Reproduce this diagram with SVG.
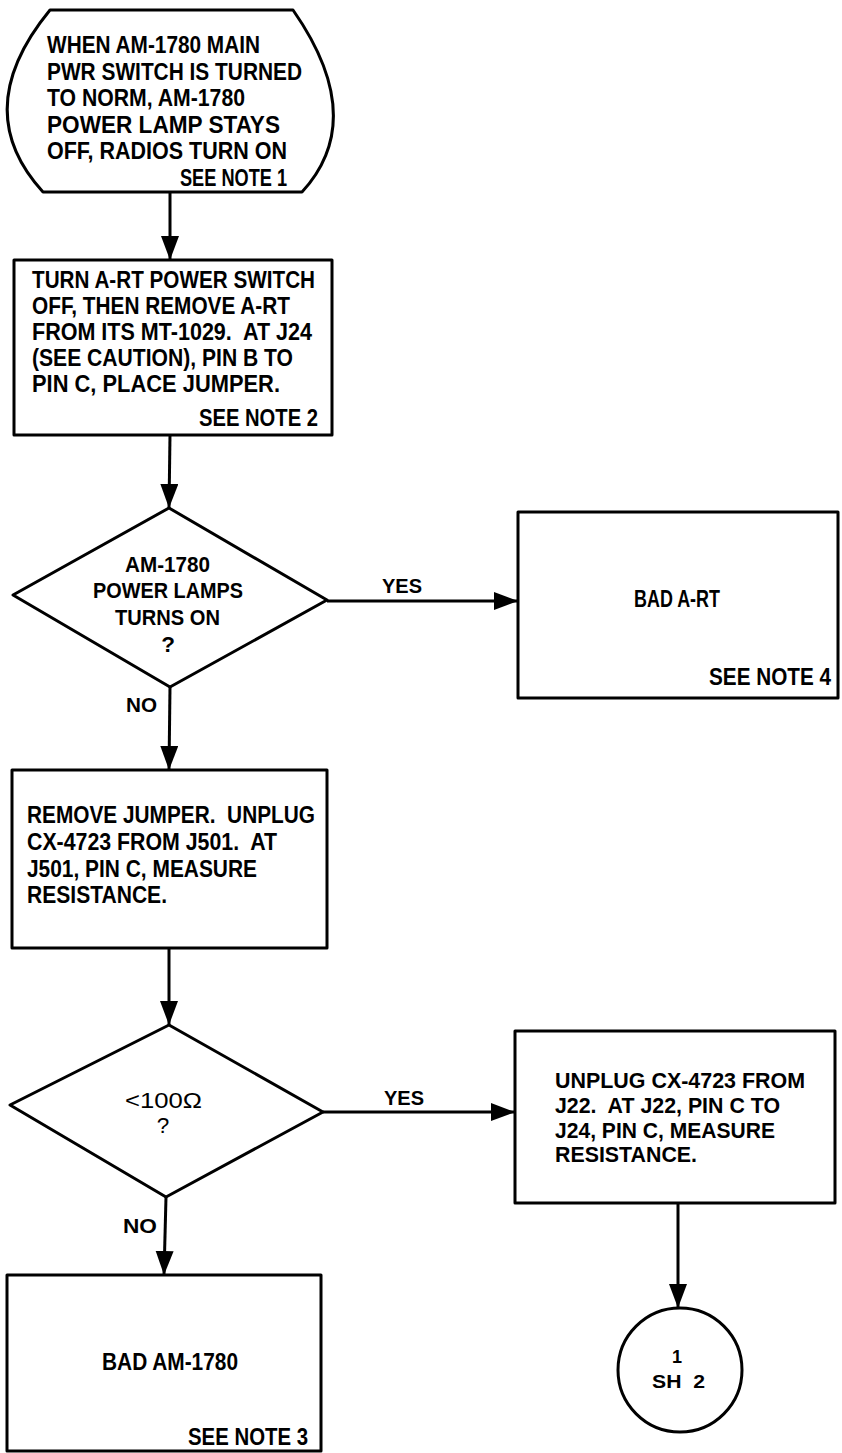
<svg xmlns="http://www.w3.org/2000/svg" width="842" height="1453" viewBox="0 0 842 1453">
<style>
.shape{fill:#fff;stroke:#000;stroke-width:3;stroke-linejoin:round}
.line{fill:none;stroke:#000;stroke-width:3}
text{font-family:"Liberation Sans Narrow","Liberation Sans",Arial,sans-serif;font-weight:bold;fill:#000;white-space:pre}
.t24{font-size:24px}
.t23{font-size:23px}
.t22{font-size:22.5px}
.t21{font-size:21px}
.t18{font-size:18px}
.reg{font-weight:normal}
.mid{text-anchor:middle}
</style>
<defs>
<marker id="arrow" markerUnits="userSpaceOnUse" markerWidth="26" markerHeight="20" refX="24" refY="9" orient="auto">
<path d="M0,0 L24,9 L0,18 Z" fill="#000"/>
</marker>
</defs>
<rect width="842" height="1453" fill="#fff"/>

<g id="connectors">
<line class="line" x1="170" y1="192" x2="170" y2="260" marker-end="url(#arrow)"/>
<line class="line" x1="170" y1="435" x2="169" y2="508" marker-end="url(#arrow)"/>
<line class="line" x1="327" y1="601" x2="518" y2="601" marker-end="url(#arrow)"/>
<line class="line" x1="170" y1="687" x2="169" y2="770" marker-end="url(#arrow)"/>
<line class="line" x1="169" y1="948" x2="169" y2="1025" marker-end="url(#arrow)"/>
<line class="line" x1="323" y1="1112" x2="515" y2="1112" marker-end="url(#arrow)"/>
<line class="line" x1="166" y1="1197" x2="164" y2="1275" marker-end="url(#arrow)"/>
<line class="line" x1="678" y1="1203" x2="678" y2="1308" marker-end="url(#arrow)"/>
<text class="t21" x="382" y="593" textLength="40" lengthAdjust="spacingAndGlyphs">YES</text>
<text class="t21" x="126" y="712" textLength="31" lengthAdjust="spacingAndGlyphs">NO</text>
<text class="t21" x="384" y="1105" textLength="40" lengthAdjust="spacingAndGlyphs">YES</text>
<text class="t21" x="123" y="1233" textLength="34" lengthAdjust="spacingAndGlyphs">NO</text>
</g>

<g id="start">
<path class="shape" d="M50,10 L293,10 Q369,119 302,192 L43,192 Q-32,110 50,10 Z"/>
<text class="t24" x="47" y="53" textLength="213" lengthAdjust="spacingAndGlyphs">WHEN AM-1780 MAIN</text>
<text class="t24" x="47" y="80" textLength="255" lengthAdjust="spacingAndGlyphs">PWR SWITCH IS TURNED</text>
<text class="t24" x="47" y="106" textLength="198" lengthAdjust="spacingAndGlyphs">TO NORM, AM-1780</text>
<text class="t24" x="47" y="133" textLength="233" lengthAdjust="spacingAndGlyphs">POWER LAMP STAYS</text>
<text class="t24" x="47" y="159" textLength="240" lengthAdjust="spacingAndGlyphs">OFF, RADIOS TURN ON</text>
<text class="t24" x="180" y="186" textLength="107" lengthAdjust="spacingAndGlyphs">SEE NOTE 1</text>
</g>

<g id="step-jumper">
<rect class="shape" x="14" y="260" width="318" height="175"/>
<text class="t24" x="32" y="288" textLength="283" lengthAdjust="spacingAndGlyphs">TURN A-RT POWER SWITCH</text>
<text class="t24" x="32" y="314" textLength="258" lengthAdjust="spacingAndGlyphs">OFF, THEN REMOVE A-RT</text>
<text class="t24" x="32" y="340" textLength="280" lengthAdjust="spacingAndGlyphs">FROM ITS MT-1029.  AT J24</text>
<text class="t24" x="32" y="366" textLength="261" lengthAdjust="spacingAndGlyphs">(SEE CAUTION), PIN B TO</text>
<text class="t24" x="32" y="392" textLength="248" lengthAdjust="spacingAndGlyphs">PIN C, PLACE JUMPER.</text>
<text class="t24" x="199" y="426" textLength="119" lengthAdjust="spacingAndGlyphs">SEE NOTE 2</text>
</g>

<g id="decision-lamps">
<polygon class="shape" points="169,508 327,600 170,687 13,595"/>
<text class="t22" x="125" y="572" textLength="85" lengthAdjust="spacingAndGlyphs">AM-1780</text>
<text class="t22" x="93" y="598" textLength="150" lengthAdjust="spacingAndGlyphs">POWER LAMPS</text>
<text class="t22" x="115" y="625" textLength="105" lengthAdjust="spacingAndGlyphs">TURNS ON</text>
<text class="t22 mid" x="168" y="652">?</text>
</g>

<g id="bad-art">
<rect class="shape" x="518" y="512" width="320" height="186"/>
<text class="t23" x="634" y="607" textLength="86" lengthAdjust="spacingAndGlyphs">BAD A-RT</text>
<text class="t23" x="709" y="685" textLength="122" lengthAdjust="spacingAndGlyphs">SEE NOTE 4</text>
</g>

<g id="step-j501">
<rect class="shape" x="12" y="770" width="315" height="178"/>
<text class="t24" x="27" y="823" textLength="288" lengthAdjust="spacingAndGlyphs">REMOVE JUMPER.  UNPLUG</text>
<text class="t24" x="27" y="850" textLength="250" lengthAdjust="spacingAndGlyphs">CX-4723 FROM J501.  AT</text>
<text class="t24" x="27" y="877" textLength="230" lengthAdjust="spacingAndGlyphs">J501, PIN C, MEASURE</text>
<text class="t24" x="27" y="903" textLength="140" lengthAdjust="spacingAndGlyphs">RESISTANCE.</text>
</g>

<g id="decision-resistance">
<polygon class="shape" points="169,1025 323,1112 166,1197 10,1105"/>
<text class="t22 reg" x="125" y="1108" textLength="77" lengthAdjust="spacingAndGlyphs">&lt;100Ω</text>
<text class="t22 reg mid" x="163" y="1133">?</text>
</g>

<g id="step-j22">
<rect class="shape" x="515" y="1031" width="320" height="172"/>
<text class="t22" x="555" y="1088" textLength="250" lengthAdjust="spacingAndGlyphs">UNPLUG CX-4723 FROM</text>
<text class="t22" x="555" y="1113" textLength="225" lengthAdjust="spacingAndGlyphs">J22.  AT J22, PIN C TO</text>
<text class="t22" x="555" y="1138" textLength="220" lengthAdjust="spacingAndGlyphs">J24, PIN C, MEASURE</text>
<text class="t22" x="555" y="1162" textLength="142" lengthAdjust="spacingAndGlyphs">RESISTANCE.</text>
</g>

<g id="bad-am1780">
<rect class="shape" x="7" y="1275" width="314" height="176"/>
<text class="t23" x="102" y="1370" textLength="136" lengthAdjust="spacingAndGlyphs">BAD AM-1780</text>
<text class="t23" x="188" y="1445" textLength="120" lengthAdjust="spacingAndGlyphs">SEE NOTE 3</text>
</g>

<g id="offpage-sh2">
<circle class="shape" cx="680" cy="1370" r="62"/>
<text class="t18 mid" x="677" y="1363">1</text>
<text class="t18" x="652" y="1388" textLength="53" lengthAdjust="spacingAndGlyphs">SH  2</text>
</g>
</svg>
